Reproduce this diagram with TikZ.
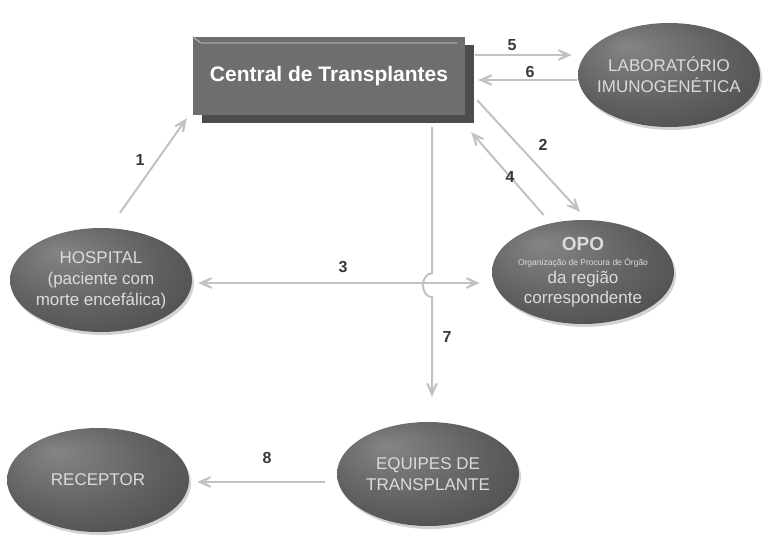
\documentclass[tikz,border=0pt]{standalone}
\usepackage{fontspec}
\setmainfont{Liberation Sans}
\usetikzlibrary{calc,positioning,arrows.meta,shapes.geometric,shadows}
\usepackage{xcolor}

\pgfdeclareradialshading{orgaoshade}{\pgfpoint{-12bp}{14bp}}{%
  color(0bp)=(black!48); color(22bp)=(black!62); color(40bp)=(black!72); color(50bp)=(black!80)}

\tikzset{
  orgao/.style={ellipse, minimum width=182pt, minimum height=104pt, inner xsep=-12pt, inner ysep=0pt,
    align=center, text=black!14, font=\fontsize{17}{21}\selectfont, shading=orgaoshade,
    drop shadow={shadow xshift=2pt, shadow yshift=-3pt, opacity=0.35}},
  seta/.style={draw=black!24, line width=2pt},
  num/.style={text=black!78, font=\bfseries\fontsize{16}{16}\selectfont},
}

\begin{document}
\begin{tikzpicture}[x=1pt, y=1pt, >={Stealth[length=25pt,width=22pt,inset=18pt]}]
    \useasboundingbox (0,0) rectangle (762,542);

    % Central box with its offset shadow
    \node[fill=black!57, minimum width=272pt, minimum height=78pt, inner sep=0pt,
          drop shadow={shadow xshift=9pt, shadow yshift=-8pt, opacity=1, fill=black!70},
          text=white, font=\bfseries\fontsize{21}{21}\selectfont] (central) at (329,466) {Central de Transplantes};
    \draw[black!42, line width=2pt] ([shift={(8,-6)}]central.north west) -- ([shift={(-8,-6)}]central.north east);
    \draw[black!35, line width=1.5pt] (central.north west) -- ([shift={(8,-6)}]central.north west);

    % The ellipses
    \node[orgao] (lab) at (669,467) {LABORAT\'ORIO\\IMUNOGEN\'ETICA};
    \node[orgao] (opo) at (583,270) {{\bfseries\fontsize{19}{19}\selectfont OPO}\\[-6pt]
        {\fontsize{8.5}{10}\selectfont Organiza\c{c}\~ao de Procura de \'Org\~ao}\\[-3pt]
        da regi\~ao\\[-1pt]correspondente};
    \node[orgao] (hosp) at (101,262) {HOSPITAL\\(paciente com\\morte encef\'alica)};
    \node[orgao] (equipes) at (428,68) {EQUIPES DE\\TRANSPLANTE};
    \node[orgao] (receptor) at (98,62) {RECEPTOR};

    % Arrows between them
    \draw[seta, ->] ([shift={(19,15)}]hosp.north) -- ([shift={(-6,-3)}]central.south west);
    \draw[seta, ->] ([shift={(12,15)}]central.south east) -- ([shift={(-3,8)}]opo.north);
    \draw[seta, <->] ([shift={(6,-3)}]hosp.east) -- ([shift={(-12,-11)}]opo.west);
    \draw[seta, ->] ([yshift=10pt]opo.130) -- ([shift={(6,-17)}]central.south east);
    \draw[seta, ->] ([shift={(10,21)}]central.east) -- ([shift={(-6,20)}]lab.west);
    \draw[seta, ->] ([shift={(-1,-5)}]lab.west) -- ([shift={(13,-4)}]central.east);
    \coordinate (topo7) at ([shift={(103,-12)}]central.south);
    \draw[seta, ->] (topo7) -- ++(0,-146) arc[start angle=90, end angle=270, x radius=9, y radius=12]
        -- ([shift={(4,25)}]equipes.north);
    \draw[seta, ->] ([shift={(-12,-8)}]equipes.west) -- ([shift={(8,-2)}]receptor.east);

    % Step numbers
    \foreach \n/\pos in {1/{140,382}, 2/{543,397}, 3/{343,275}, 4/{510,365},
                         5/{512,497}, 6/{530,470}, 7/{447,205}, 8/{267,84}} {
        \node[num] (l\n) at (\pos) {\n};
    };
\end{tikzpicture}
\end{document}
